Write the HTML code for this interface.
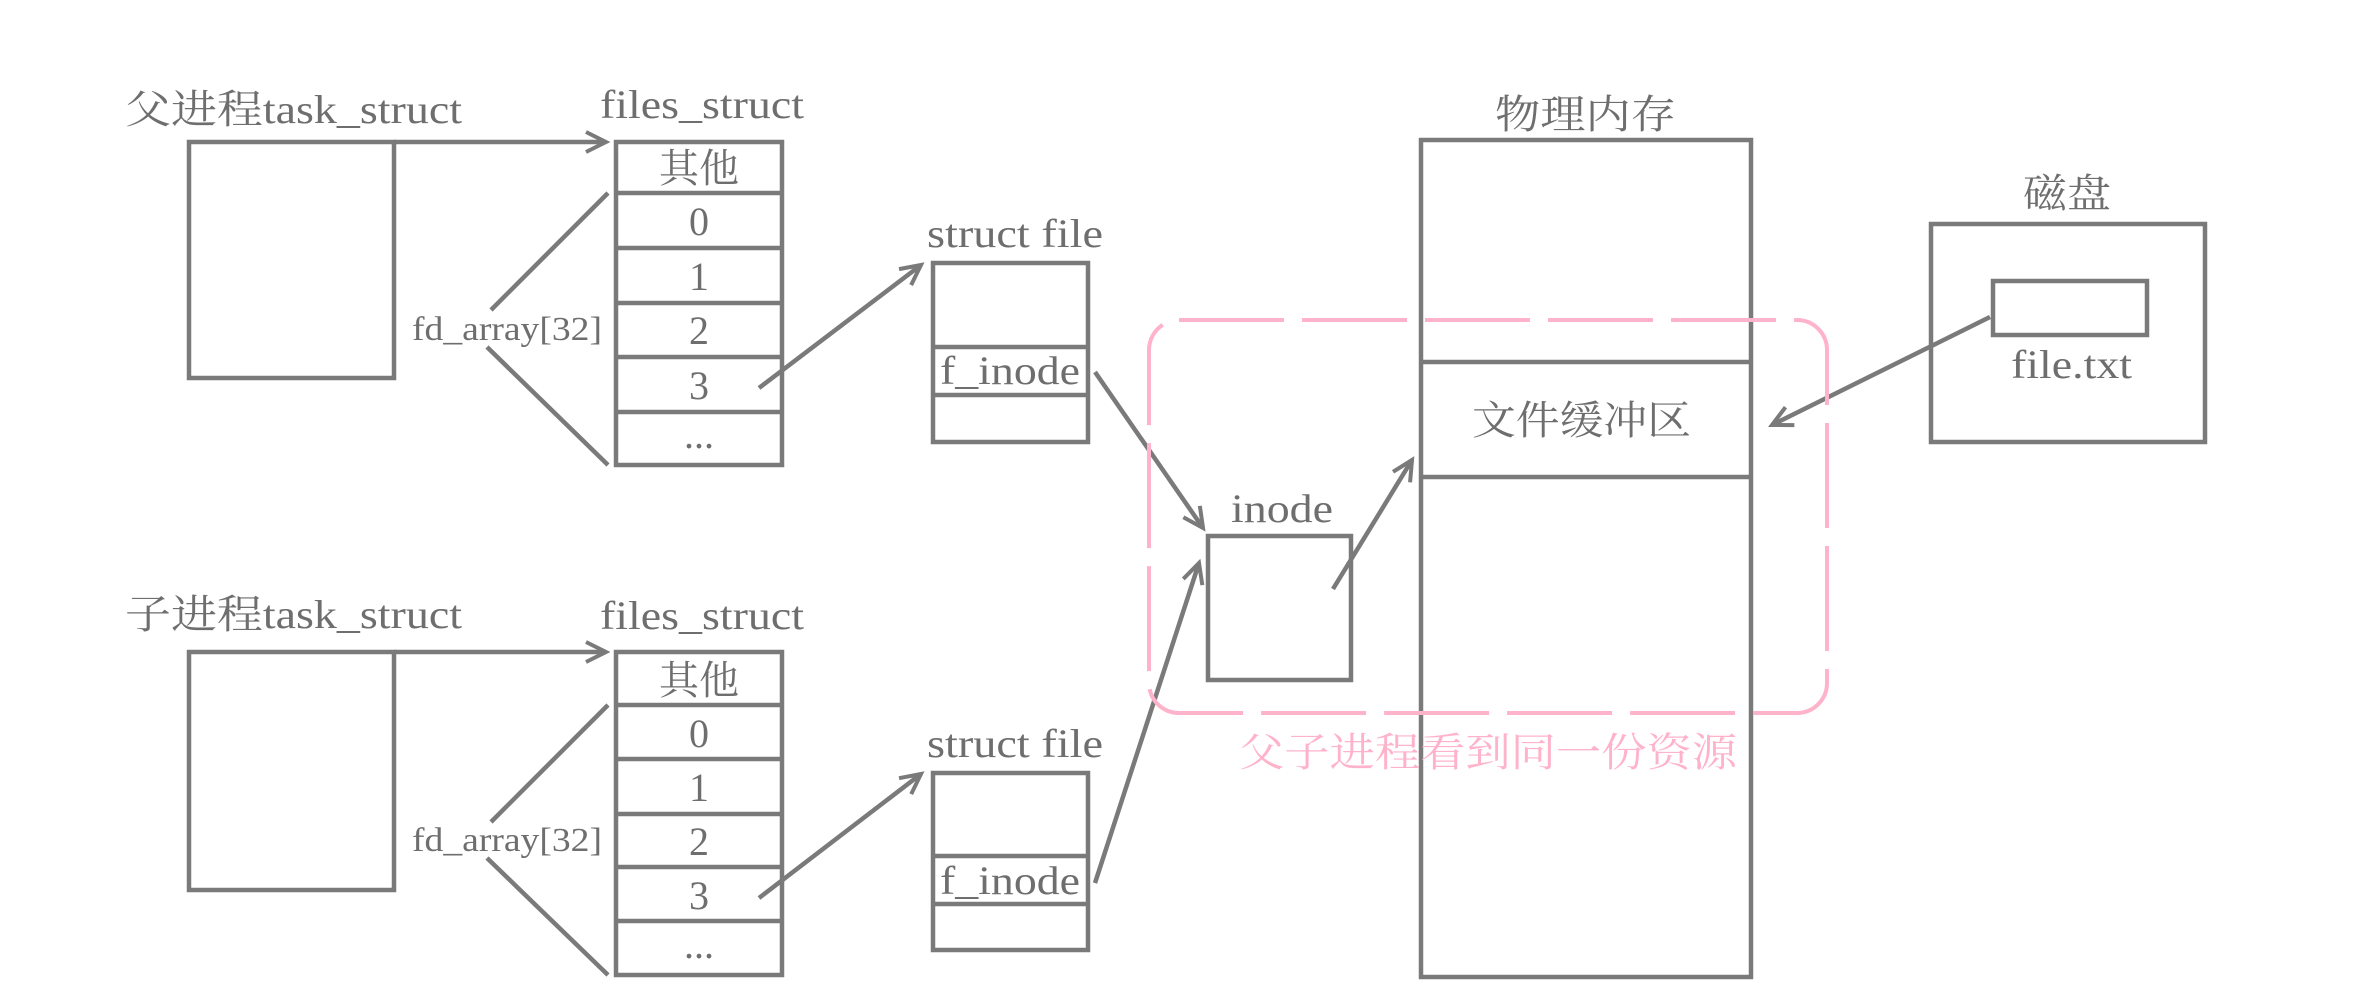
<!DOCTYPE html>
<html><head><meta charset="utf-8"><style>
html,body{margin:0;padding:0;background:#fff;}
svg{display:block;}
text{font-family:"Liberation Serif","Noto Serif CJK SC",serif;fill:#6e6e6e;}
</style></head><body>
<svg width="2368" height="998" viewBox="0 0 2368 998" xmlns="http://www.w3.org/2000/svg">
<defs>
<marker id="ah" markerUnits="userSpaceOnUse" markerWidth="30" markerHeight="30" refX="22" refY="12" orient="auto">
<path d="M2,2 L22,12 L2,22" fill="none" stroke="#7a7a7a" stroke-width="4"/>
</marker>
</defs>
<g fill="none" stroke="#7a7a7a" stroke-width="4.5">
<rect x="189" y="142" width="205" height="236"/>
<rect x="616" y="142" width="166" height="323"/>
<line x1="616" y1="193" x2="782" y2="193"/>
<line x1="616" y1="248" x2="782" y2="248"/>
<line x1="616" y1="303" x2="782" y2="303"/>
<line x1="616" y1="357" x2="782" y2="357"/>
<line x1="616" y1="412" x2="782" y2="412"/>
<line x1="394" y1="142" x2="606" y2="142" marker-end="url(#ah)"/>
<line x1="608" y1="193" x2="491" y2="310"/>
<line x1="487" y1="347" x2="608" y2="465"/>
<line x1="759" y1="388" x2="921" y2="265" marker-end="url(#ah)"/>
<rect x="933" y="263" width="155" height="179"/>
<line x1="933" y1="347" x2="1088" y2="347"/>
<line x1="933" y1="395" x2="1088" y2="395"/>
<line x1="1095" y1="372" x2="1203" y2="528" marker-end="url(#ah)"/>
<rect x="189" y="652" width="205" height="238"/>
<rect x="616" y="652" width="166" height="323"/>
<line x1="616" y1="705" x2="782" y2="705"/>
<line x1="616" y1="759" x2="782" y2="759"/>
<line x1="616" y1="814" x2="782" y2="814"/>
<line x1="616" y1="867" x2="782" y2="867"/>
<line x1="616" y1="921" x2="782" y2="921"/>
<line x1="394" y1="652" x2="606" y2="652" marker-end="url(#ah)"/>
<line x1="608" y1="705" x2="491" y2="822"/>
<line x1="487" y1="858" x2="608" y2="975"/>
<line x1="759" y1="898" x2="921" y2="774" marker-end="url(#ah)"/>
<rect x="933" y="773" width="155" height="177"/>
<line x1="933" y1="856" x2="1088" y2="856"/>
<line x1="933" y1="904" x2="1088" y2="904"/>
<line x1="1095" y1="883" x2="1199" y2="563" marker-end="url(#ah)"/>
<rect x="1421" y="140" width="330" height="837"/>
<line x1="1421" y1="362" x2="1751" y2="362"/>
<line x1="1421" y1="477" x2="1751" y2="477"/>
<rect x="1208" y="536" width="143" height="144"/>
<line x1="1333" y1="589" x2="1412" y2="460" marker-end="url(#ah)"/>
<rect x="1931" y="224" width="274" height="218"/>
<rect x="1993" y="281" width="154" height="54"/>
<line x1="1990" y1="317" x2="1772" y2="425" marker-end="url(#ah)"/>
</g>
<rect x="1149" y="320" width="678" height="393" rx="30" ry="30" fill="none" stroke="#ffb3cb" stroke-width="4" stroke-dasharray="105 18"/>
<g font-size="40">
<text x="125" y="123" textLength="337" lengthAdjust="spacingAndGlyphs">父进程task_struct</text>
<text x="600" y="118" textLength="204" lengthAdjust="spacingAndGlyphs">files_struct</text>
<text x="699" y="182" text-anchor="middle">其他</text>
<text x="699" y="235" text-anchor="middle">0</text>
<text x="699" y="290" text-anchor="middle">1</text>
<text x="699" y="344" text-anchor="middle">2</text>
<text x="699" y="399" text-anchor="middle">3</text>
<text x="699" y="448" text-anchor="middle">...</text>
<text x="412" y="340" textLength="190" lengthAdjust="spacingAndGlyphs" font-size="34">fd_array[32]</text>
<text x="927" y="247" textLength="176" lengthAdjust="spacingAndGlyphs">struct file</text>
<text x="940" y="384" textLength="140" lengthAdjust="spacingAndGlyphs">f_inode</text>

<text x="125" y="628" textLength="337" lengthAdjust="spacingAndGlyphs">子进程task_struct</text>
<text x="600" y="629" textLength="204" lengthAdjust="spacingAndGlyphs">files_struct</text>
<text x="699" y="694" text-anchor="middle">其他</text>
<text x="699" y="747" text-anchor="middle">0</text>
<text x="699" y="801" text-anchor="middle">1</text>
<text x="699" y="855" text-anchor="middle">2</text>
<text x="699" y="909" text-anchor="middle">3</text>
<text x="699" y="958" text-anchor="middle">...</text>
<text x="412" y="851" textLength="190" lengthAdjust="spacingAndGlyphs" font-size="34">fd_array[32]</text>
<text x="927" y="757" textLength="176" lengthAdjust="spacingAndGlyphs">struct file</text>
<text x="940" y="894" textLength="140" lengthAdjust="spacingAndGlyphs">f_inode</text>

<text x="1495" y="128" textLength="181" lengthAdjust="spacingAndGlyphs">物理内存</text>
<text x="1472" y="434" textLength="219" lengthAdjust="spacingAndGlyphs">文件缓冲区</text>
<text x="2023" y="207" textLength="88" lengthAdjust="spacingAndGlyphs">磁盘</text>
<text x="2011" y="378" textLength="121" lengthAdjust="spacingAndGlyphs">file.txt</text>
<text x="1231" y="522" textLength="102" lengthAdjust="spacingAndGlyphs">inode</text>
<text x="1239" y="766" textLength="498" lengthAdjust="spacingAndGlyphs" style="fill:#ffb3cb">父子进程看到同一份资源</text>
</g>
</svg>
</body></html>
